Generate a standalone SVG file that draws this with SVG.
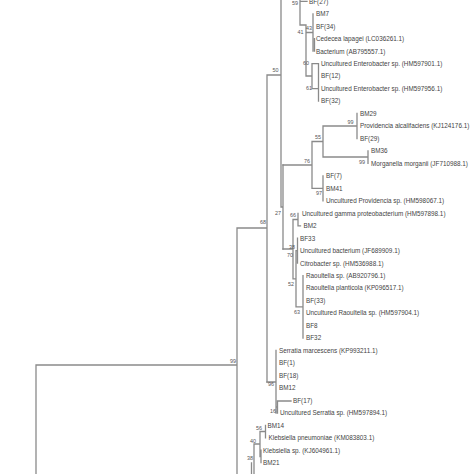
<svg xmlns="http://www.w3.org/2000/svg" width="474" height="474" viewBox="0 0 474 474">
<style>
.e{stroke:#8a8a8a;stroke-width:1.3;fill:none;stroke-linecap:square}
.l{font-family:"Liberation Sans",Arial,sans-serif;font-size:6.35px;fill:#444}
.b{font-family:"Liberation Sans",Arial,sans-serif;font-size:5.4px;fill:#555;text-anchor:end}
</style>
<rect width="474" height="474" fill="#fff"/>
<g id="connectors" class="e">
<path d="M36 365V480M36 365H237M237 228V480M237 228H267M267 75V382M267 75H281M281 -5V207M281 207H283M283 165V249"/>
<path d="M300 -5V25M300 1.3H307M300 25H306M306 25V76M306 32.5H313M313 13.8V51.2M314.5 38.7V51.2M306 76H312M312 63.6V88.6M312 63.6H318.5M318.5 63.6V101M312 88.6H318.5"/>
<path d="M283 165H312M312 141.5V188.4M312 141.5H323M323 126V157M323 126H357M357 113.5V138.5M323 157H368M368 151V163.4M312 188.4H323M323 175.9V200.8"/>
<path d="M283 249H293M293 219.5V278.8M293 219.5H298M298 213.3V225.8M298 225.8H300.5M293 278.8H296M296 250.7V306.8M296 250.7H297.5M297.5 238.2V263.2M296 306.8H303M303 275.6V338"/>
<path d="M267 382H276M276 350.5V413M276 407H277.5M277.5 401V413M277.5 401H291"/>
<path d="M265.5 425.3V437.8M260 431.5H265.5M260 431.5V456.5M260 456.5H261M261 450.2V462.7M254 444H260M254 444V480M251.5 463V480"/>
</g>
<g id="leaves">
<g id="n1"><text class="l" x="309" y="3.6">BF(27)</text></g>
<g id="n2"><text class="l" x="316" y="16.1">BM7</text></g>
<g id="n3"><text class="l" x="316" y="28.5">BF(34)</text></g>
<g id="n4"><text class="l" x="316" y="41">Cedecea lapagei (LC036261.1)</text></g>
<g id="n5"><text class="l" x="316" y="53.5">Bacterium  (AB795557.1)</text></g>
<g id="n6"><text class="l" x="321" y="66">Uncultured Enterobacter sp. (HM597901.1)</text></g>
<g id="n7"><text class="l" x="321" y="78.4">BF(12)</text></g>
<g id="n8"><text class="l" x="321" y="90.9">Uncultured Enterobacter sp. (HM597956.1)</text></g>
<g id="n9"><text class="l" x="321" y="103.4">BF(32)</text></g>
<g id="n10"><text class="l" x="360" y="115.8">BM29</text></g>
<g id="n11"><text class="l" x="360" y="128.3">Providencia alcalifaciens (KJ124176.1)</text></g>
<g id="n12"><text class="l" x="360" y="140.8">BF(29)</text></g>
<g id="n13"><text class="l" x="371" y="153.2">BM36</text></g>
<g id="n14"><text class="l" x="371" y="165.7">Morganella morganii (JF710988.1)</text></g>
<g id="n15"><text class="l" x="326" y="178.2">BF(7)</text></g>
<g id="n16"><text class="l" x="326" y="190.7">BM41</text></g>
<g id="n17"><text class="l" x="326" y="203.1">Uncultured Providencia sp. (HM598067.1)</text></g>
<g id="n18"><text class="l" x="302" y="215.6">Uncultured gamma proteobacterium (HM597898.1)</text></g>
<g id="n19"><text class="l" x="303.5" y="228.1">BM2</text></g>
<g id="n20"><text class="l" x="300" y="240.5">BF33</text></g>
<g id="n21"><text class="l" x="300" y="253">Uncultured bacterium (JF689909.1)</text></g>
<g id="n22"><text class="l" x="300" y="265.5">Citrobacter sp. (HM536988.1)</text></g>
<g id="n23"><text class="l" x="306" y="277.9">Raoultella sp. (AB920796.1)</text></g>
<g id="n24"><text class="l" x="306" y="290.4">Raoultella planticola (KP096517.1)</text></g>
<g id="n25"><text class="l" x="306" y="302.9">BF(33)</text></g>
<g id="n26"><text class="l" x="306" y="315.4">Uncultured Raoultella sp. (HM597904.1)</text></g>
<g id="n27"><text class="l" x="306" y="327.8">BF8</text></g>
<g id="n28"><text class="l" x="306" y="340.3">BF32</text></g>
<g id="n29"><text class="l" x="279" y="352.8">Serratia marcescens (KP993211.1)</text></g>
<g id="n30"><text class="l" x="279" y="365.2">BF(1)</text></g>
<g id="n31"><text class="l" x="279" y="377.7">BF(18)</text></g>
<g id="n32"><text class="l" x="279" y="390.2">BM12</text></g>
<g id="n33"><text class="l" x="293" y="402.6">BF(17)</text></g>
<g id="n34"><text class="l" x="280" y="415.1">Uncultured Serratia sp. (HM597894.1)</text></g>
<g id="n35"><text class="l" x="267.5" y="427.6">BM14</text></g>
<g id="n36"><text class="l" x="268.5" y="440.1">Klebsiella pneumoniae (KM083803.1)</text></g>
<g id="n37"><text class="l" x="263" y="452.5">Klebsiella sp. (KJ604961.1)</text></g>
<g id="n38"><text class="l" x="263" y="465">BM21</text></g>
</g>
<g id="bootstrap">
<text class="b" x="298" y="5.3">59</text>
<text class="b" x="303.5" y="33.6">41</text>
<text class="b" x="312" y="30.2">43</text>
<text class="b" x="309" y="64.6">60</text>
<text class="b" x="312" y="90.2">61</text>
<text class="b" x="278.5" y="71.9">50</text>
<text class="b" x="353.5" y="124.2">99</text>
<text class="b" x="321" y="138.9">55</text>
<text class="b" x="365" y="163.6">99</text>
<text class="b" x="310" y="162.6">76</text>
<text class="b" x="322" y="194.6">97</text>
<text class="b" x="281" y="215">27</text>
<text class="b" x="266" y="224">68</text>
<text class="b" x="296" y="216.9">66</text>
<text class="b" x="295" y="248.9">38</text>
<text class="b" x="293" y="256.9">70</text>
<text class="b" x="294" y="286.1">52</text>
<text class="b" x="300" y="314">63</text>
<text class="b" x="236" y="362.7">99</text>
<text class="b" x="274" y="386">96</text>
<text class="b" x="276" y="413">16</text>
<text class="b" x="262" y="430">56</text>
<text class="b" x="256" y="442.6">40</text>
<text class="b" x="253" y="460.2">38</text>
</g>
</svg>
